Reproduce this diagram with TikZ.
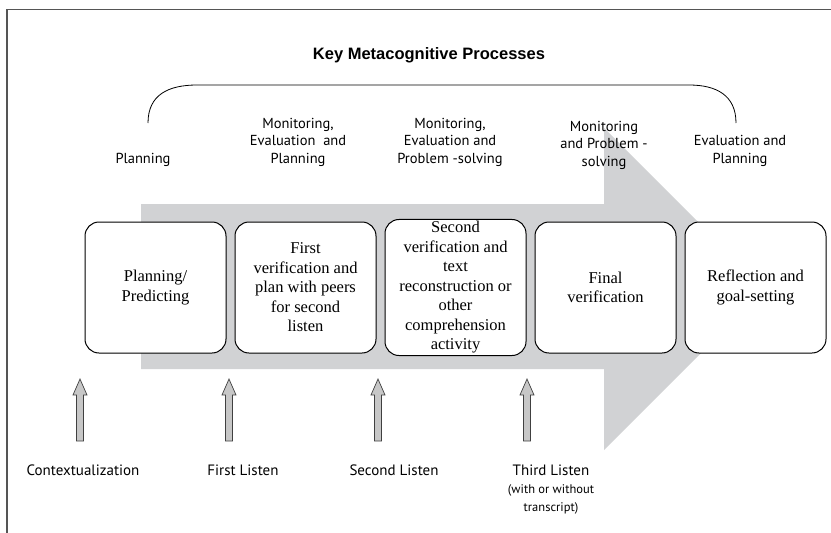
\documentclass[tikz,border=0pt]{standalone}
\usepackage{fontspec}
\setmainfont{Liberation Serif}
\setsansfont{PT Sans}
\newfontfamily\titlefont{Liberation Sans}
\usepackage{xcolor}
\usetikzlibrary{positioning}
\definecolor{arrowgray}{RGB}{209,210,212}
\definecolor{framegray}{RGB}{85,85,85}
\tikzset{
    step-box/.style = {draw=black, fill=white, line width=1pt, rectangle, rounded corners=14pt, minimum width=141pt, minimum height=131pt, inner sep=2pt, align=center, font=\fontsize{16.5}{19.5}\selectfont},
    process-label/.style = {anchor=south, align=center, font=\sffamily\fontsize{14.5}{17.5}\selectfont},
    listen-label/.style = {anchor=north, align=center, font=\sffamily\fontsize{15}{18}\selectfont},
    listen-arrow/.style = {draw=black!75, fill=black!22, line width=0.7pt, line join=miter},
}

\begin{document}
\begin{tikzpicture}[x=1pt,y=-1pt]
\useasboundingbox (0,0) rectangle (831,533);
% frame
\draw[framegray, line width=1.5pt] (7,533) -- (7,9.5) -- (831,9.5);
% title and bracket
\node[font=\titlefont\bfseries\fontsize{16.5}{20}\selectfont] (title) at (429,55) {Key Metacognitive Processes};
\draw[line width=0.8pt] (148,123) .. controls (148,95) and (168,85) .. (197,85) -- (689,85) .. controls (716,85) and (736,95) .. (736,123);
% big gray arrow behind the boxes
\fill[arrowgray] (141,204) -- (604,204) -- (604,128) -- (765,289) -- (604,450) -- (604,369) -- (141,369) -- cycle;
% the five steps
\node[step-box] (planning) at (155.5,287.5) {Planning/\\Predicting};
\node[step-box, right=8pt of planning] (first-check) {First\\verification and\\plan with peers\\for second\\listen};
\node[step-box, right=8pt of first-check] (second-check) {Second\\verification and\\text\\reconstruction or\\other\\comprehension\\activity};
\node[step-box, right=8pt of second-check] (final-check) {Final\\verification};
\node[step-box, right=8pt of final-check] (reflection) {Reflection and\\goal-setting};
% processes
\node[process-label] (p-planning) at (143,170) {Planning};
\node[process-label] (p-first) at (298,170) {Monitoring,\\Evaluation\ \ and\\Planning};
\node[process-label] (p-second) at (450,170) {Monitoring,\\Evaluation and\\Problem -solving};
\node[process-label] (p-final) at (604,173) {Monitoring\\and Problem -\\solving};
\node[process-label] (p-reflection) at (740,170) {Evaluation and\\Planning};
% listens
\foreach \x in {80,229,378,527}
    \draw[listen-arrow] (\x,379) -- ++(7,16) -- ++(-3.5,0) -- ++(0,46) -- ++(-7,0) -- ++(0,-46) -- ++(-3.5,0) -- cycle;
\node[listen-label] (context) at (83,461) {Contextualization};
\node[listen-label] (first-listen) at (243,461) {First Listen};
\node[listen-label] (second-listen) at (394,461) {Second Listen};
\node[listen-label] (third-listen) at (551,461) {Third Listen\\{\fontsize{12.5}{18}\selectfont (with or without}\\{\fontsize{12.5}{18}\selectfont transcript)}};
\end{tikzpicture}
\end{document}
